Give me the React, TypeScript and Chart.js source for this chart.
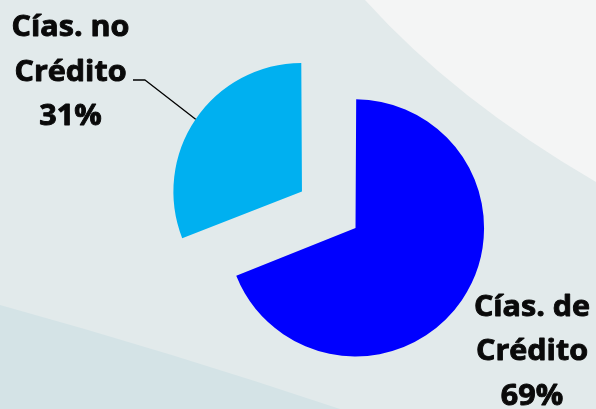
import React, { useEffect, useRef } from 'react';
import { Chart, registerables } from 'chart.js';

Chart.register(...registerables);

const categories = ['Cías. de Crédito', 'Cías. no Crédito'];
const labelLines = [['Cías. de', 'Crédito'], ['Cías. no', 'Crédito']];
const shares = [69, 31];
const sliceColors = ['#0000FF', '#00B0F0'];
const sliceOffsets = [17, 242];

export default function App() {
  const ref = useRef<HTMLCanvasElement>(null);

  useEffect(() => {
    if (!ref.current) return;

    const bgPlugin = {
      id: 'bgShapes',
      beforeDraw(chart: any) {
        const ctx = chart.ctx;
        const w = chart.width;
        const h = chart.height;
        ctx.save();
        ctx.fillStyle = '#e2eaeb';
        ctx.fillRect(0, 0, w, h);
        ctx.beginPath();
        ctx.moveTo(365, 0);
        ctx.quadraticCurveTo(455, 100, w, 182);
        ctx.lineTo(w, 0);
        ctx.closePath();
        ctx.fillStyle = '#f4f5f5';
        ctx.fill();
        ctx.beginPath();
        ctx.moveTo(0, 305);
        ctx.quadraticCurveTo(170, 352, 340, h);
        ctx.lineTo(0, h);
        ctx.closePath();
        ctx.fillStyle = '#d4e3e6';
        ctx.fill();
        ctx.restore();
      },
    };

    const labelPlugin = {
      id: 'sliceLabels',
      afterDraw(chart: any) {
        const ctx = chart.ctx;
        const meta = chart.getDatasetMeta(0);
        const total = shares.reduce((a, b) => a + b, 0);
        const anchors = [
          { x: 532, y: 315.5 },
          { x: 70.5, y: 36 },
        ];
        ctx.save();
        ctx.fillStyle = '#0a0a0a';
        ctx.strokeStyle = '#0a0a0a';
        ctx.lineWidth = 0.9;
        ctx.lineJoin = 'round';
        ctx.font = 'bold 28.5px "Open Sans"';
        ctx.textAlign = 'center';
        ctx.textBaseline = 'alphabetic';
        categories.forEach((_, i) => {
          const lines = [...labelLines[i], Math.round((shares[i] / total) * 100) + '%'];
          lines.forEach((t, j) => {
            ctx.save();
            ctx.translate(anchors[i].x, anchors[i].y + j * 44.5);
            ctx.scale(1.07, 1);
            ctx.fillText(t, 0, 0);
            ctx.strokeText(t, 0, 0);
            ctx.restore();
          });
        });
        // leader line for the small slice
        const el = meta.data[1];
        const mid = (el.startAngle + el.endAngle) / 2;
        const t = sliceOffsets[1] / 4;
        const fix = 1 - Math.sin(Math.min(Math.PI, el.endAngle - el.startAngle));
        const r = el.outerRadius + t * fix;
        const px = el.x + Math.cos(mid) * (t + r);
        const py = el.y + Math.sin(mid) * (t + r);
        ctx.strokeStyle = '#000000';
        ctx.lineWidth = 1.3;
        ctx.beginPath();
        ctx.moveTo(133, 80);
        ctx.lineTo(145, 80);
        ctx.lineTo(px, py);
        ctx.stroke();
        ctx.restore();
      },
    };

    const chart = new Chart(ref.current, {
      type: 'pie',
      data: {
        labels: categories,
        datasets: [
          {
            data: shares,
            backgroundColor: sliceColors,
            borderWidth: 0,
            offset: sliceOffsets,
            hoverOffset: 0,
            clip: false,
          } as any,
        ],
      },
      options: {
        animation: false,
        responsive: false,
        devicePixelRatio: 1,
        radius: 124.3,
        layout: { padding: { left: 108, top: 42, right: 0, bottom: 0 } },
        plugins: {
          legend: { display: false },
          tooltip: { enabled: false },
        },
        events: [],
      } as any,
      plugins: [bgPlugin, labelPlugin],
    });

    return () => chart.destroy();
  }, []);

  return (
    <div style={{ position: 'absolute', left: 0, top: 0, width: 596, height: 409 }}>
      <canvas ref={ref} width={596} height={409} />
    </div>
  );
}
